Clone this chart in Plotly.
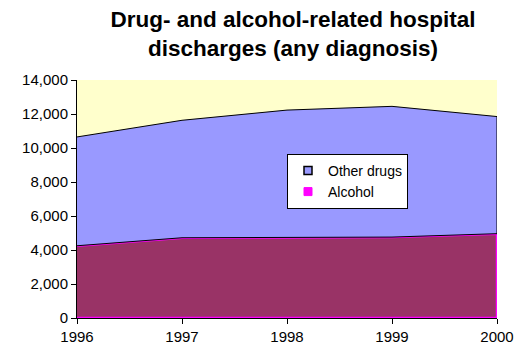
import plotly.graph_objects as go

# Hospital discharges by year (any diagnosis)
years = [1996, 1997, 1998, 1999, 2000]
alcohol = [4250, 4720, 4740, 4760, 4960]
other_drugs = [6400, 6910, 7490, 7690, 6890]

y_ticks = [0, 2000, 4000, 6000, 8000, 10000, 12000, 14000]

total = [a + o for a, o in zip(alcohol, other_drugs)]

fig = go.Figure()

# Alcohol band: from zero up to the alcohol count
fig.add_trace(go.Scatter(
    x=years + years[::-1],
    y=alcohol + [0] * len(years),
    fill="toself", fillcolor="#993366",
    line=dict(color="#FF00FF", width=2.5),
    mode="lines", name="Alcohol", showlegend=False, hoverinfo="skip",
))

# Other drugs band stacked on top of alcohol
fig.add_trace(go.Scatter(
    x=years + years[::-1],
    y=total + alcohol[::-1],
    fill="toself", fillcolor="#9999FF",
    line=dict(color="black", width=1),
    mode="lines", name="Other drugs", showlegend=False, hoverinfo="skip",
))

# Legend entries with small square swatches
fig.add_trace(go.Scatter(
    x=[None], y=[None], mode="markers", name="Other drugs",
    marker=dict(symbol="square", size=8, color="#9999FF",
                line=dict(color="black", width=1.5)),
))
fig.add_trace(go.Scatter(
    x=[None], y=[None], mode="markers", name="Alcohol",
    marker=dict(symbol="square", size=8, color="#FF00FF",
                line=dict(color="#FF00FF", width=1)),
))

fig.update_layout(
    width=519, height=348,
    margin=dict(l=77, r=22, t=80, b=30),
    paper_bgcolor="white", plot_bgcolor="#FFFFCC",
    font=dict(family="Liberation Sans, Arial, sans-serif", color="black", size=15),
    title=dict(
        text="<b>Drug- and alcohol-related hospital<br>discharges (any diagnosis)</b>",
        x=293 / 519, xanchor="center", xref="container",
        y=1 - 27 / 348, yanchor="top", yref="container",
        font=dict(size=22.5, family="Liberation Sans, Arial, sans-serif"),
    ),
    showlegend=True,
    legend=dict(
        x=0.5, y=0.69, xanchor="left", yanchor="top",
        bgcolor="white", bordercolor="black", borderwidth=1,
        font=dict(size=14), traceorder="normal",
        itemwidth=30, tracegroupgap=0,
    ),
    xaxis=dict(
        range=[1996, 2000], tickvals=years, ticktext=[str(y) for y in years],
        showgrid=False, zeroline=False, showline=True, linecolor="black",
        linewidth=1, ticks="outside", ticklen=5, tickcolor="black",
        tickfont=dict(size=15), automargin=False,
    ),
    yaxis=dict(
        range=[0, 14000], tickvals=y_ticks, tickformat=",",
        showgrid=False, zeroline=False, showline=True, linecolor="black",
        linewidth=1, ticks="outside", ticklen=5, tickcolor="black",
        tickfont=dict(size=15), automargin=False,
    ),
)

fig.write_html("out.html")
